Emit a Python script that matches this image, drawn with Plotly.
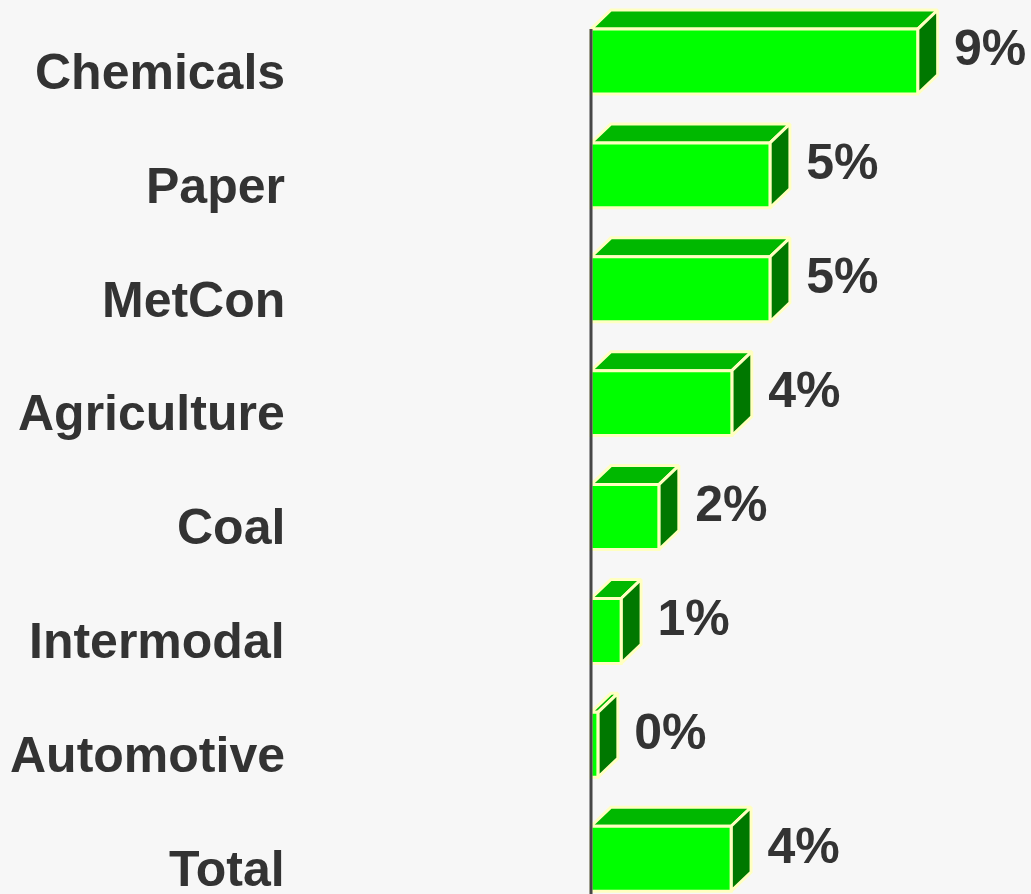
import plotly.graph_objects as go

# Volume growth by business line (%)
categories = ["Chemicals", "Paper", "MetCon", "Agriculture", "Coal",
              "Intermodal", "Automotive", "Total"]
growth = [9.0, 4.93, 4.93, 3.88, 1.87, 0.83, 0.19, 3.86]

FRONT = "#00ff00"
TOP = "#00b800"
SIDE = "#007800"
EDGE = "#ffffc0"
TEXT = "#333333"
BG = "#f7f7f7"

W, H = 1031, 894
L = 587
PX_PER_UNIT = 36.3
X_RANGE = [-4 / PX_PER_UNIT, (W - L - 4) / PX_PER_UNIT]
Y_RANGE = [7.31, -0.54]  # reversed: first category on top

h = 0.57    # front face height (category units)
dx = 0.55   # depth offset along x (data units)
dy = 0.167  # depth offset along y (category units)

front_x, front_y, top_x, top_y, side_x, side_y = [], [], [], [], [], []
for i, v in enumerate(growth):
    y0, y1 = i - h / 2, i + h / 2
    front_x += [0, v, v, 0, 0, None]
    front_y += [y0, y0, y1, y1, y0, None]
    top_x += [0, v, v + dx, dx, 0, None]
    top_y += [y0, y0, y0 - dy, y0 - dy, y0, None]
    side_x += [v, v + dx, v + dx, v, v, None]
    side_y += [y0, y0 - dy, y1 - dy, y1, y0, None]

fig = go.Figure()
for xs, ys, col in [(top_x, top_y, TOP), (side_x, side_y, SIDE), (front_x, front_y, FRONT)]:
    fig.add_trace(go.Scatter(
        x=xs, y=ys, mode="lines", fill="toself", fillcolor=col,
        line=dict(color=EDGE, width=3), hoverinfo="skip", showlegend=False,
    ))

# value labels to the right of each box
fig.add_trace(go.Scatter(
    x=[v + dx + 0.45 for v in growth],
    y=[i - 0.075 for i in range(len(growth))],
    mode="text",
    text=[f"{v:.0f}%" for v in growth],
    texttemplate="<b>%{text}</b>",
    textposition="middle right",
    textfont=dict(family="Liberation Sans, Arial, sans-serif", size=50, color=TEXT),
    hoverinfo="skip", showlegend=False, cliponaxis=False,
))

# category labels
for i, name in enumerate(categories):
    fig.add_annotation(
        x=(287 - L) / (W - L), xref="paper", y=i + 0.09, yref="y",
        text=f"<b>{name}</b>", showarrow=False, xanchor="right", yanchor="middle",
        font=dict(family="Liberation Sans, Arial, sans-serif", size=50, color=TEXT),
    )

# vertical baseline at zero
fig.add_shape(type="line", x0=0, x1=0, xref="x", y0=-h / 2, y1=Y_RANGE[0], yref="y",
              line=dict(color="#474747", width=3), layer="above")

fig.update_layout(
    width=W, height=H,
    margin=dict(l=L, r=0, t=0, b=0),
    paper_bgcolor=BG, plot_bgcolor=BG,
    xaxis=dict(range=X_RANGE, visible=False, fixedrange=True),
    yaxis=dict(range=Y_RANGE, visible=False, fixedrange=True),
    showlegend=False,
)

fig.write_html("out.html")
